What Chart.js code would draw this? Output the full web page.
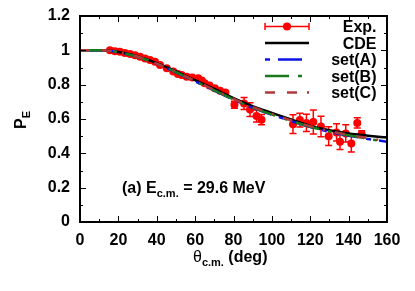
<!DOCTYPE html>
<html><head><meta charset="utf-8">
<script src="https://cdn.jsdelivr.net/npm/chart.js@4/dist/chart.umd.min.js"></script>
<style>
html,body{margin:0;padding:0;background:#fff;}
#wrap{position:relative;width:415px;height:291px;}
canvas{position:absolute;left:0;top:0;}
.t{position:absolute;font-family:"Liberation Sans",Arial,sans-serif;font-weight:bold;font-size:16px;line-height:16px;color:#000;white-space:nowrap;}
.t sub{font-size:11px;vertical-align:-4px;line-height:0;}
</style></head><body>
<div id="wrap"><canvas id="c" width="415" height="291"></canvas>
<div class="t" id="ann" style="left:122px;top:180px;">(a) E<sub>c.m.</sub> = 29.6 MeV</div>
<div class="t" id="xt" style="left:193px;top:249px;"><span style="font-weight:normal">θ</span><sub>c.m.</sub> (deg)</div>
<div class="t" id="yt" style="left:21px;top:120px;transform:translate(-50%,-50%) rotate(-90deg);">P<sub>E</sub></div>
</div>
<script>
// ---- data ----
const expAngle = [15.6,18.2,20.8,23.4,26.1,28.7,31.3,33.9,36.5,39.1,41.7,45.2,48.6,51.0,53.0,55.6,58.5,61.6,63.5,65.0,67.5,70.3,73.0,75.8,80.5,85.5,88.6,92.0,94.6,111.0,114.6,118.0,121.6,125.6,129.6,133.7,135.5,138.5,141.4,144.5,146.8];
const expPE    = [1.000,0.995,0.992,0.985,0.978,0.972,0.963,0.953,0.944,0.934,0.914,0.895,0.876,0.862,0.856,0.846,0.842,0.837,0.825,0.808,0.795,0.779,0.765,0.755,0.683,0.690,0.655,0.618,0.596,0.570,0.594,0.577,0.582,0.556,0.500,0.522,0.468,0.516,0.458,0.577,0.512];
const expErr   = [0,0,0,0,0,0,0,0,0,0,0,0,0,0,0,0,0,0,0,0,0,0,0,0.01,0.02,0.035,0.04,0.035,0.03,0.055,0.04,0.05,0.07,0.06,0.055,0.05,0.045,0.05,0.05,0.03,0.02];
const thAngle = [0,10,15,20,30,40,50,60,70,80,90,100,110,120,130,140,150,160];
const cdePE   = [1.0,1.0,0.998,0.990,0.965,0.925,0.877,0.826,0.775,0.722,0.675,0.636,0.597,0.560,0.535,0.516,0.503,0.492];
const setAPE  = [1.0,1.0,0.998,0.989,0.962,0.921,0.872,0.819,0.766,0.713,0.665,0.625,0.588,0.553,0.525,0.503,0.484,0.468];
const setBPE  = [1.0,1.0,0.998,0.989,0.963,0.922,0.873,0.820,0.767,0.714,0.666,0.626,0.589,0.555,0.527,0.505,0.485,0.466];
const setCPE  = [1.0,1.0,0.998,0.990,0.963,0.923,0.874,0.822,0.769,0.717,0.669,0.630,0.592,0.558,0.530,0.508,0.489,0.472];
const xTicks = [0,20,40,60,80,100,120,140,160];
const yTicks = [0,0.2,0.4,0.6,0.8,1,1.2];
const legendLabels = ['Exp.','CDE','set(A)','set(B)','set(C)'];

// ---- styles ----
const FONT = '"Liberation Sans", Arial, sans-serif';
const colA = '#0a14e6', colB = '#1a7a1a', colC = '#b03a3a', colExp = '#ff0000';
const dashA = [24,8,5,8], dashB = [24,9,4,9], dashC = [10,12,10,10,2,10];

const pts = (xs, ys) => xs.map((x,i)=>({x:x, y:ys[i]}));

const decor = {
  id:'decor',
  beforeDatasetsDraw(chart){
    const ctx=chart.ctx, xs=chart.scales.x, ys=chart.scales.y;
    ctx.save(); ctx.strokeStyle=colExp; ctx.lineWidth=1.5;
    expAngle.forEach((a,i)=>{
      const e=expErr[i]; if(!e) return;
      const x=xs.getPixelForValue(a), y1=ys.getPixelForValue(expPE[i]-e), y2=ys.getPixelForValue(expPE[i]+e);
      ctx.beginPath();
      ctx.moveTo(x,y1); ctx.lineTo(x,y2);
      ctx.moveTo(x-3.5,y1); ctx.lineTo(x+3.5,y1);
      ctx.moveTo(x-3.5,y2); ctx.lineTo(x+3.5,y2);
      ctx.stroke();
    });
    ctx.restore();
  },
  afterDraw(chart){
    const ctx=chart.ctx, xs=chart.scales.x, ys=chart.scales.y, ca=chart.chartArea;
    ctx.save();
    ctx.strokeStyle='#000'; ctx.lineWidth=1;
    ctx.beginPath();
    for(let v=0; v<=160; v+=10){
      const major = (v%20===0), L = major?6:3;
      const x = Math.round(xs.getPixelForValue(v))+0.5;
      ctx.moveTo(x,ca.bottom); ctx.lineTo(x,ca.bottom-L);
      ctx.moveTo(x,ca.top); ctx.lineTo(x,ca.top+L);
    }
    for(let k=0; k<=12; k++){
      const v=k/10, major=(k%2===0), L=major?6:3;
      const y = Math.round(ys.getPixelForValue(v))+0.5;
      ctx.moveTo(ca.left,y); ctx.lineTo(ca.left+L,y);
      ctx.moveTo(ca.right,y); ctx.lineTo(ca.right-L,y);
    }
    ctx.stroke();
    ctx.lineWidth=2;
    ctx.strokeRect(ca.left, ca.top, ca.right-ca.left, ca.bottom-ca.top);
    const x0=265, x1=309, tx=376.5;
    ctx.font='bold 16px '+FONT; ctx.textAlign='right'; ctx.textBaseline='alphabetic'; ctx.fillStyle='#000';
    legendLabels.forEach((lab,i)=>{
      const y = 26.5 + 16.5*i;
      ctx.fillStyle='#000';
      ctx.fillText(lab, tx, y+5.75);
      ctx.setLineDash([]);
      if(i===0){
        ctx.strokeStyle=colExp; ctx.lineWidth=1.5;
        ctx.beginPath();
        ctx.moveTo(x0,y); ctx.lineTo(x1,y);
        ctx.moveTo(x0,y-3.5); ctx.lineTo(x0,y+3.5);
        ctx.moveTo(x1,y-3.5); ctx.lineTo(x1,y+3.5);
        ctx.stroke();
        ctx.fillStyle=colExp; ctx.beginPath(); ctx.arc((x0+x1)/2,y,4,0,Math.PI*2); ctx.fill();
      } else {
        const cols=['#000',colA,colB,colC], dashes=[[],dashA,dashB,dashC], offs=[0,32,0,0];
        ctx.strokeStyle=cols[i-1]; ctx.lineWidth=2.5; ctx.setLineDash(dashes[i-1]); ctx.lineDashOffset=offs[i-1];
        ctx.beginPath(); ctx.moveTo(x0,y); ctx.lineTo(x1,y); ctx.stroke();
      }
    });
    ctx.restore();
  }
};

Chart.defaults.font.family = FONT;
Chart.defaults.font.size = 16;
Chart.defaults.font.weight = 'bold';
Chart.defaults.color = '#000';

const lineDs = (label, ys, color, dash, order) => ({
  label, data: pts(thAngle, ys), borderColor: color, backgroundColor: color,
  borderWidth: 2.5, borderDash: dash, pointRadius: 0, showLine: true,
  cubicInterpolationMode: 'monotone', order
});

new Chart(document.getElementById('c'), {
  type: 'line',
  data: { datasets: [
    { label:'Exp.', data: pts(expAngle, expPE), showLine:false, pointRadius:4, pointHoverRadius:4,
      pointBackgroundColor: colExp, pointBorderColor: colExp, pointBorderWidth:0, borderColor: colExp, order: 10 },
    lineDs('CDE', cdePE, '#000', [], 4),
    lineDs('set(A)', setAPE, colA, dashA, 3),
    lineDs('set(B)', setBPE, colB, dashB, 2),
    lineDs('set(C)', setCPE, colC, dashC, 1)
  ]},
  options: {
    responsive:false, animation:false, devicePixelRatio:1,
    layout:{ padding:{ left:0, right:28, top:16, bottom:0 } },
    plugins:{ legend:{display:false}, tooltip:{enabled:false} },
    events: [],
    scales:{
      x:{ type:'linear', min:0, max:160,
          afterBuildTicks: s => { s.ticks = xTicks.map(v=>({value:v})); },
          afterFit: s => { s.height = 69; s.paddingLeft = 0; s.paddingRight = 0; },
          ticks:{ padding:9, maxRotation:0, autoSkip:false, callback: v => String(v) },
          grid:{ display:false, drawTicks:false }, border:{ display:false } },
      y:{ type:'linear', min:0, max:1.2,
          afterBuildTicks: s => { s.ticks = yTicks.map(v=>({value:v})); },
          afterFit: s => { s.width = 80; s.paddingTop = 0; s.paddingBottom = 0; },
          ticks:{ padding:10, autoSkip:false, callback: v => String(+(+v).toFixed(1)) },
          grid:{ display:false, drawTicks:false }, border:{ display:false } }
    }
  },
  plugins:[decor]
});
</script>
</body></html>
